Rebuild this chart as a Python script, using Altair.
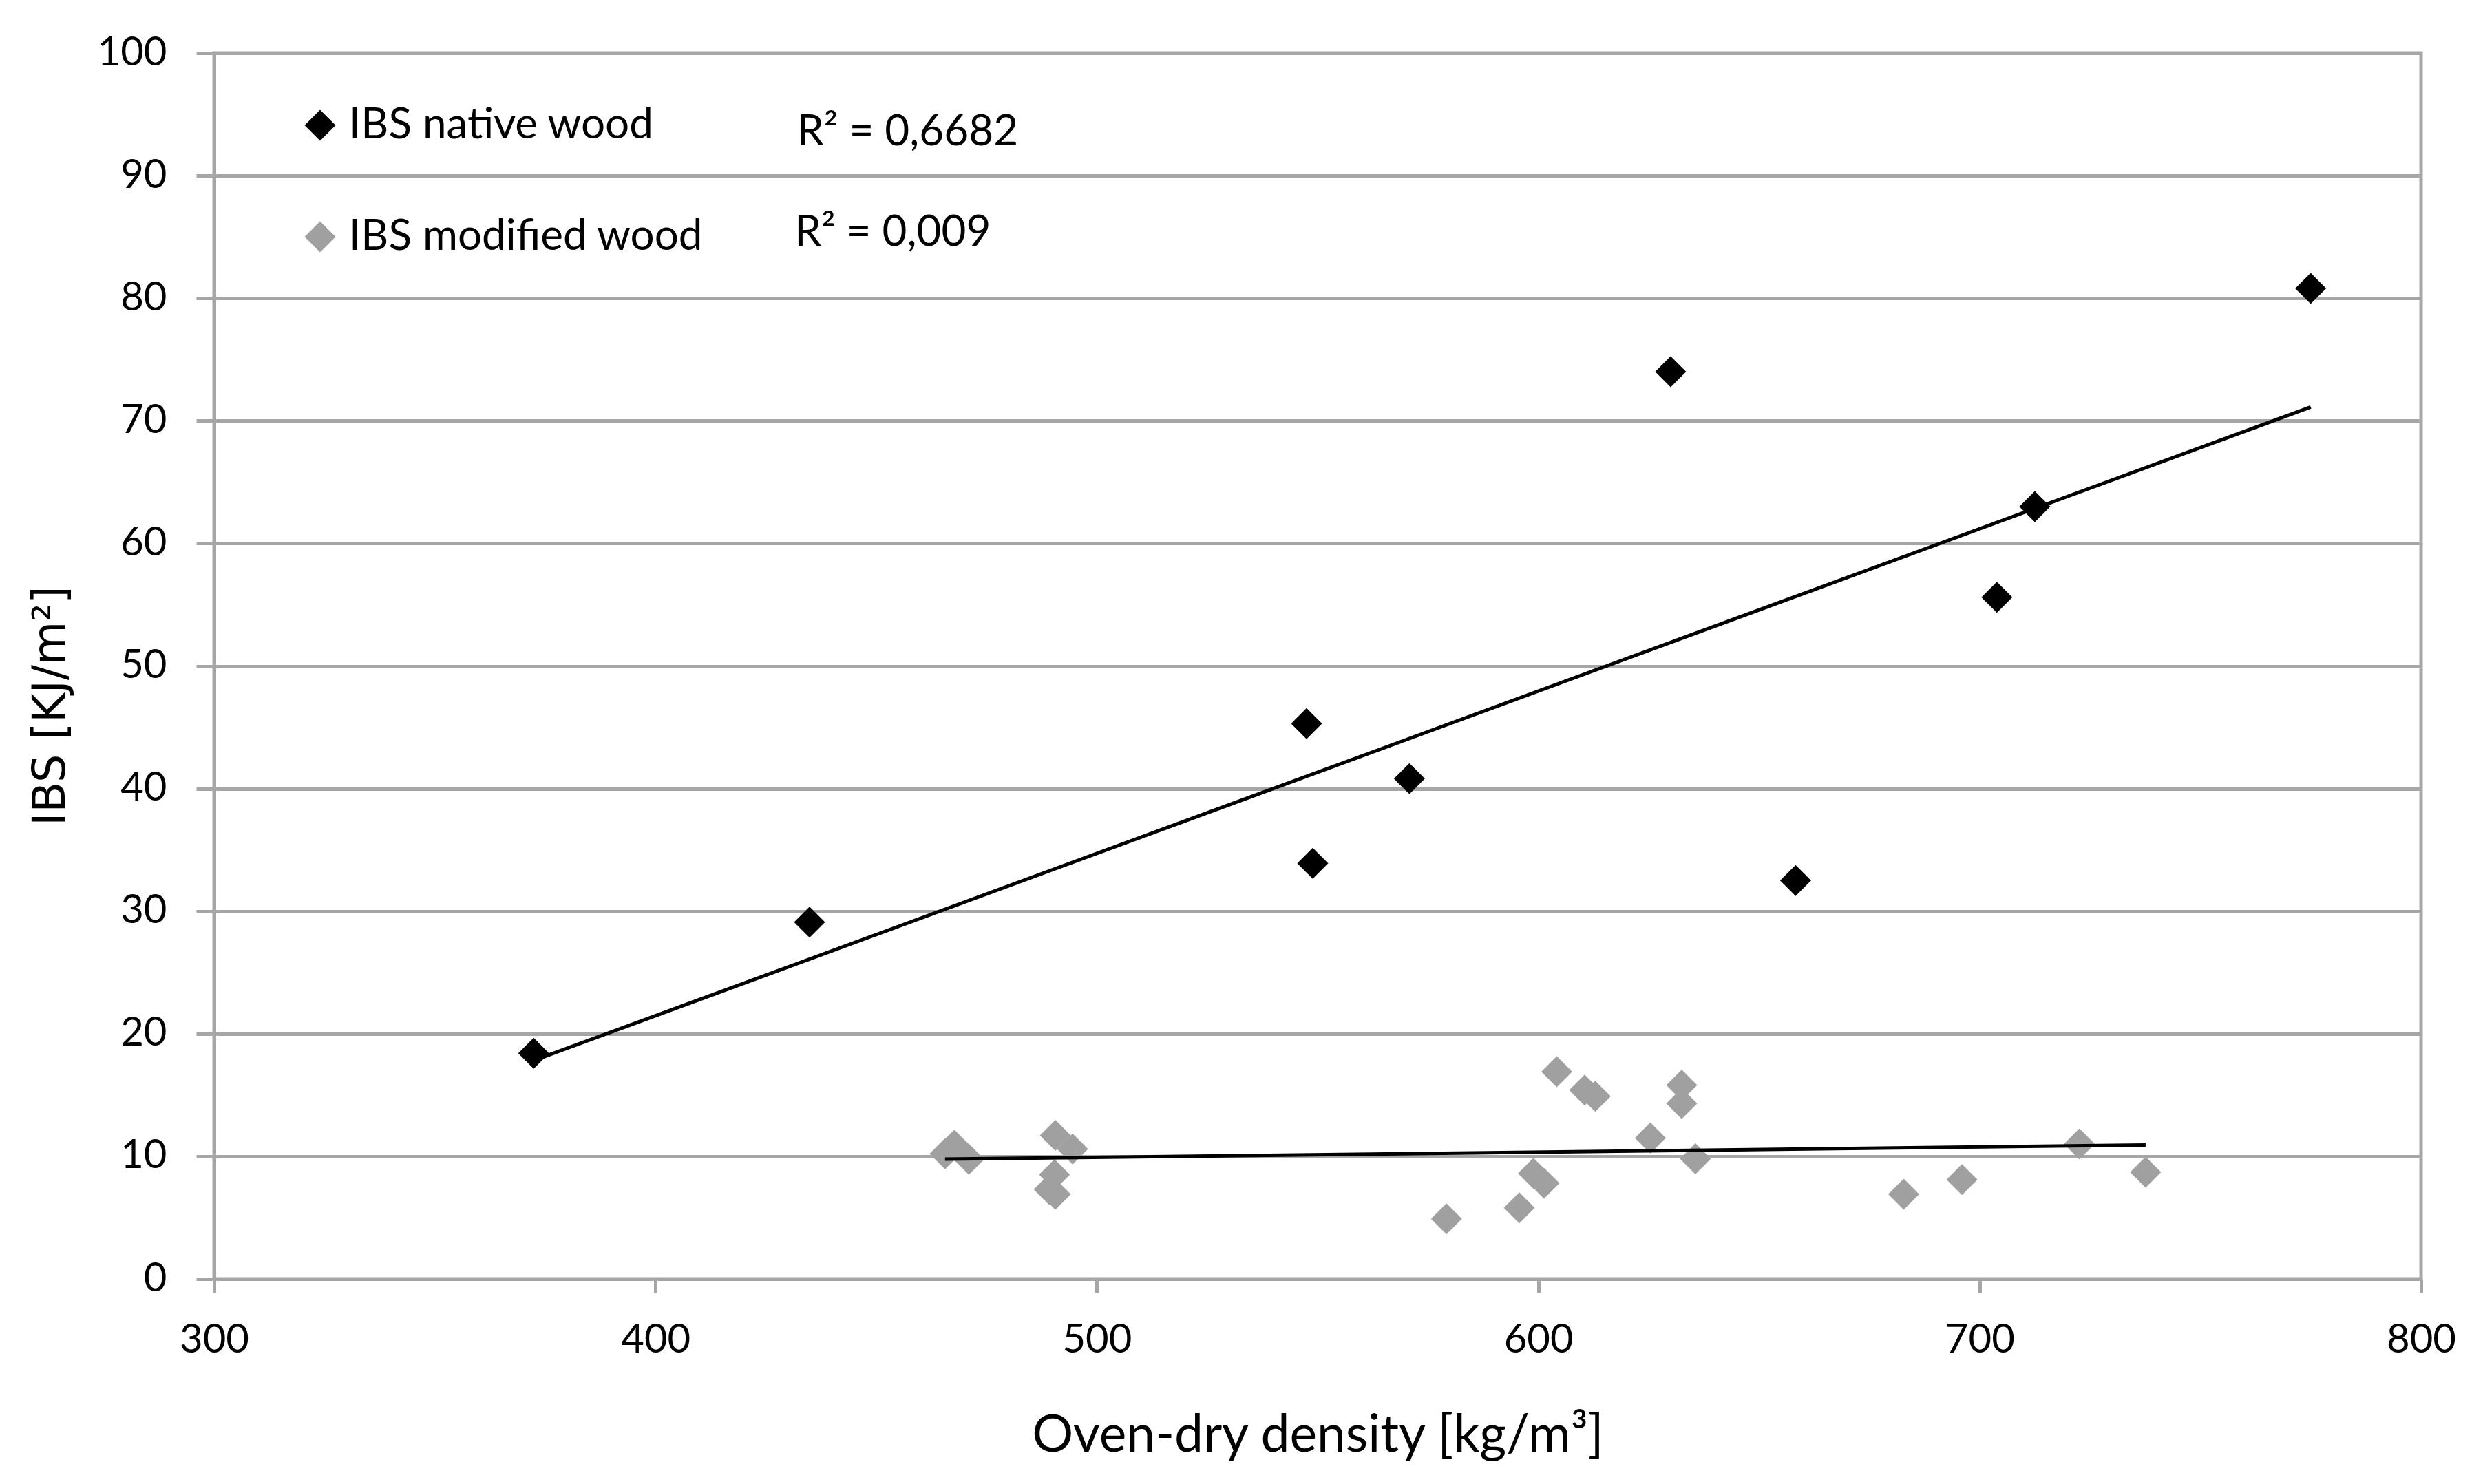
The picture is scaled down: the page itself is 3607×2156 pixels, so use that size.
import altair as alt
import pandas as pd

# ---- data ----
series_names = ["IBS native wood", "IBS modified wood"]
series_colors = ["#000000", "#A0A0A0"]

native_density = [372.4, 434.9, 547.5, 548.9, 570.8, 630.0, 658.3, 703.9, 712.5, 775.0]
native_ibs = [18.4, 29.1, 45.3, 33.9, 40.8, 74.0, 32.5, 55.6, 63.0, 80.8]

modified_density = [465.6, 467.7, 471.0, 490.6, 494.5, 490.4, 489.2, 490.6,
                    579.2, 595.7, 598.9, 601.3, 604.2, 610.5, 612.9, 625.4,
                    632.5, 632.5, 635.6, 682.8, 696.0, 722.6, 737.6]
modified_ibs = [10.2, 10.9, 9.75, 11.7, 10.6, 8.5, 7.3, 6.9,
                4.9, 5.8, 8.6, 7.8, 16.9, 15.4, 14.9, 11.5,
                15.8, 14.3, 9.8, 6.9, 8.1, 11.0, 8.7]

r2_labels = ["R² = 0,6682", "R² = 0,009"]
r2_x = [432.1, 431.5]
r2_y = [92.5, 84.3]

x_ticks = [300, 400, 500, 600, 700, 800]
y_ticks = [0, 10, 20, 30, 40, 50, 60, 70, 80, 90, 100]

# ---- tables ----
points = pd.DataFrame({
    "density": native_density + modified_density,
    "ibs": native_ibs + modified_ibs,
    "series": [series_names[0]] * len(native_density) + [series_names[1]] * len(modified_density),
})
r2 = pd.DataFrame({"x": r2_x, "y": r2_y, "label": r2_labels})

GRID = "#A6A6A6"

x_scale = alt.Scale(domain=[300, 800], nice=False, zero=False)
y_scale = alt.Scale(domain=[0, 100], nice=False)

x_axis = alt.Axis(
    title="Oven-dry density [kg/m³]", values=x_ticks, grid=False,
    tickSize=20, labelPadding=40, labelFontSize=58, labelFont="Lato",
    labelFlush=False, labelOverlap=False,
    titleFont="Lato", titleFontSize=75, titleFontWeight="normal",
    titleBaseline="alphabetic", titleY=250,
)
y_axis = alt.Axis(
    title="IBS [KJ/m²]", values=y_ticks, grid=True,
    tickSize=26, labelPadding=43, labelFontSize=58, labelFont="Lato",
    labelFlush=False, labelOverlap=False,
    titleFont="DejaVu Sans", titleFontSize=65, titleFontWeight="normal",
    titleAngle=270, titleAlign="center", titleBaseline="alphabetic",
    titleX=-218, titleY=948,
)

base = alt.Chart(points)

pts = base.mark_point(filled=True, shape="diamond", size=2025, opacity=1, strokeWidth=0).encode(
    x=alt.X("density:Q", scale=x_scale, axis=x_axis),
    y=alt.Y("ibs:Q", scale=y_scale, axis=y_axis),
    color=alt.Color(
        "series:N",
        scale=alt.Scale(domain=series_names, range=series_colors),
        legend=alt.Legend(
            title=None, orient="none", legendX=123, legendY=74,
            symbolType="diamond", symbolSize=2025, symbolStrokeWidth=0,
            labelFont="Lato", labelFontSize=62, labelColor="black",
            labelLimit=2000, labelOffset=11, rowPadding=100, padding=0,
        ),
    ),
)

lines = base.transform_regression(
    "density", "ibs", groupby=["series"]
).mark_line(color="black", strokeWidth=5).encode(
    x=alt.X("density:Q", scale=x_scale),
    y=alt.Y("ibs:Q", scale=y_scale),
    detail="series:N",
)

texts = alt.Chart(r2).mark_text(
    align="left", baseline="alphabetic", font="Lato", fontSize=62, color="black"
).encode(
    x=alt.X("x:Q", scale=x_scale),
    y=alt.Y("y:Q", scale=y_scale),
    text="label:N",
)

chart = alt.layer(pts, lines, texts).properties(
    width=3206, height=1781,
    autosize=alt.AutoSizeParams(type="none"),
    padding={"left": 303, "top": 69, "right": 60, "bottom": 280},
    background="white",
).configure_axis(
    labelColor="black", titleColor="black",
    domainColor=GRID, domainWidth=5,
    tickColor=GRID, tickWidth=5,
    gridColor=GRID, gridWidth=5,
).configure_view(stroke=GRID, strokeWidth=5)

chart.save("out.html", embed_options={"renderer": "svg", "actions": False})
